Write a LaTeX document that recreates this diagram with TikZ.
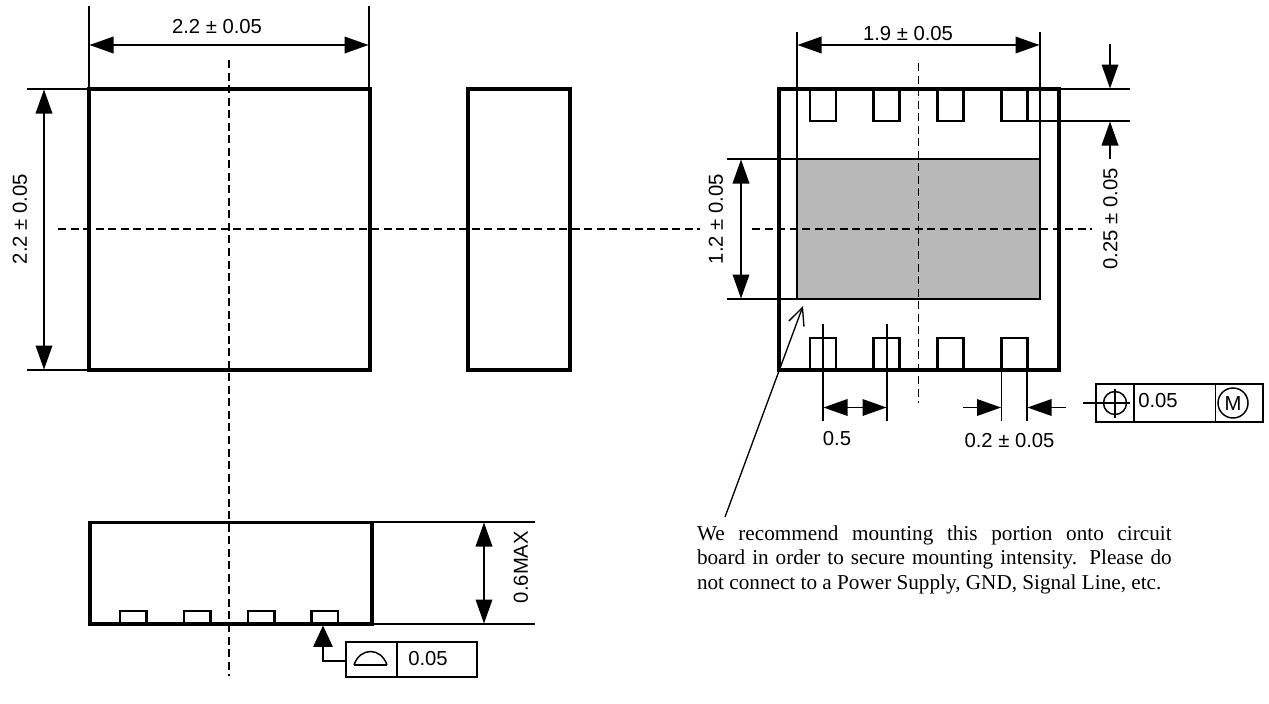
\documentclass[tikz,border=0pt]{standalone}
\usepackage{fontspec}
\setmainfont{Liberation Sans}
\newfontfamily\notefont{Liberation Serif}
\usetikzlibrary{arrows.meta}
\tikzset{
  every node/.style={inner sep=0pt,outer sep=0pt,font=\fontsize{15.2}{17}\selectfont},
  body/.style={line width=2.4pt,line join=miter},
  pad/.style={line width=1.9pt},
  thin line/.style={line width=1pt},
  dim/.style={thin line,{Triangle[length=18pt,width=12.5pt,fill=black]}-{Triangle[length=18pt,width=12.5pt,fill=black]}},
  dimone/.style={thin line,-{Triangle[length=18pt,width=12.5pt,fill=black]}},
  center line/.style={line width=1pt,dash pattern=on 6pt off 3.4pt},
  frame line/.style={line width=1.1pt},
}
\begin{document}
\begin{tikzpicture}[x=0.75pt,y=-0.75pt]
\useasboundingbox (0,0) rectangle (1269,703);
% gray pad
\fill[black!28] (797,159) rectangle (1040,299);
% center lines
\draw[center line] (58,229) -- (700,229);
\draw[center line] (752,229) -- (1092,229);
\draw[center line] (229,60) -- (229,676);
\draw[center line] (918.5,63) -- (918.5,403);
% top view
\draw[body] (89,89) rectangle (370,370);
\draw[body] (468,89) rectangle (570,370);
% right view
\draw[body] (779,89) rectangle (1059,370);
\draw[line width=1.9pt] (797,159) rectangle (1040,299);
\foreach \x in {810,873.5,937.5,1001.5}{
  \draw[pad] (\x,89) -- (\x,121) -- (\x+26,121) -- (\x+26,89);
  \draw[pad] (\x,370) -- (\x,338) -- (\x+26,338) -- (\x+26,370);
}
% front view
\draw[body] (90,522.5) rectangle (372,624);
\foreach \x in {120,184,248,311.5}{
  \draw[pad] (\x,624) -- (\x,611) -- (\x+26.5,611) -- (\x+26.5,624);
}
% dims: top view
\draw[thin line] (89,6) -- (89,89);
\draw[thin line] (369,6) -- (369,89);
\draw[dim] (89.5,45) -- (368.5,45);
\node (d1) at (217,27) {2.2 ± 0.05};
\draw[thin line] (27,89) -- (89,89);
\draw[thin line] (27,370) -- (89,370);
\draw[dim] (44,89.5) -- (44,369.5);
\node[rotate=90] (d2) at (20,219) {2.2 ± 0.05};
% dims: right view
\draw[thin line] (797,32) -- (797,159);
\draw[thin line] (1040,32) -- (1040,159);
\draw[dim] (797.5,45) -- (1039.5,45);
\node (d3) at (908,34) {1.9 ± 0.05};
\draw[thin line] (1059,89) -- (1130,89);
\draw[thin line] (1028,121) -- (1130,121);
\draw[dimone] (1110,44) -- (1110,88.5);
\draw[dimone] (1110,159) -- (1110,121.5);
\node[rotate=90] (d4) at (1110.5,219) {0.25 ± 0.05};
\draw[thin line] (727,159) -- (797,159);
\draw[thin line] (727,299) -- (797,299);
\draw[dim] (741,159.5) -- (741,298.5);
\node[rotate=90] (d5) at (716,219) {1.2 ± 0.05};
% pitch
\draw[thin line] (823,324) -- (823,421);
\draw[thin line] (887,324) -- (887,421);
\draw[dim] (823.5,407.5) -- (886.5,407.5);
\node (d6) at (837,439) {0.5};
\draw[thin line] (1001.5,370) -- (1001.5,421);
\draw[thin line] (1027,370) -- (1027,421);
\draw[dimone] (963,407.5) -- (1001,407.5);
\draw[dimone] (1066,407.5) -- (1027.5,407.5);
\node (d7) at (1009.5,441) {0.2 ± 0.05};
% position tolerance frame
\draw[frame line] (1096,384) rectangle (1263,422);
\draw[frame line] (1134,384) -- (1134,422);
\draw[frame line] (1215.5,384) -- (1215.5,422);
\draw[frame line] (1115,403) circle (11.5);
\draw[frame line] (1083,403) -- (1130,403);
\draw[frame line] (1115,389) -- (1115,418);
\node (f1) at (1158,401) {0.05};
\draw[frame line] (1233,403) circle (15);
\node (f2) at (1233,403.5) {M};
% leader
\draw[thin line,-{Straight Barb[length=13pt,width=12pt]}] (725,517) -- (803,306);
% note
\node[anchor=north west,text width=356pt,align=justify,font=\notefont\fontsize{15.9}{18.3}\selectfont] (note) at (697,525.5)
 {We recommend mounting this portion onto circuit\linebreak board in order to secure mounting intensity. Please do\linebreak not connect to a Power Supply, GND, Signal Line, etc.};
% front dims
\draw[thin line] (372,522) -- (535,522);
\draw[thin line] (372,624) -- (535,624);
\draw[dim] (484,522.5) -- (484,623.5);
\node[rotate=90] (d8) at (521,567) {0.6MAX};
% flatness frame
\draw[frame line] (346,642) rectangle (477,677);
\draw[frame line] (397,642) -- (397,677);
\draw[frame line] (354,665) -- (387,665);
\draw[frame line] (354,665) .. controls (360,647) and (381,647) .. (387,665);
\node (f3) at (428,659) {0.05};
\draw[line width=1.2pt,-{Triangle[length=16pt,width=14.5pt,fill=black]}] (346,661) -- (323,661) -- (323,625.5);
\end{tikzpicture}
\end{document}
